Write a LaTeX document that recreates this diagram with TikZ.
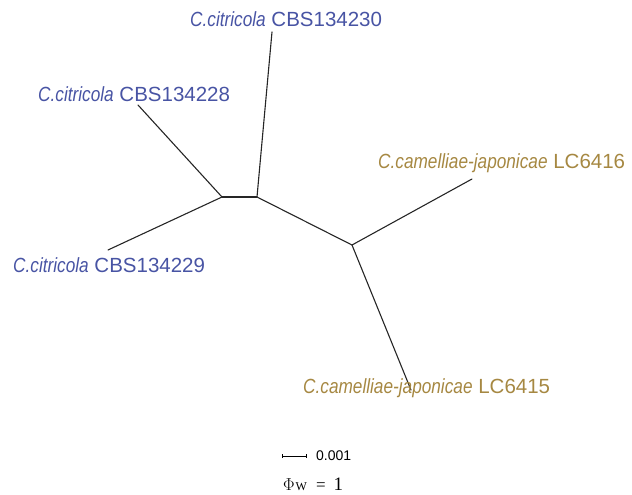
\documentclass[tikz,border=0pt]{standalone}
\usepackage{fontspec}
\setmainfont{Liberation Sans}
\newfontfamily\narrowit{Liberation Sans}[FakeStretch=0.84]
\newfontfamily\serifit{Liberation Serif}
\usetikzlibrary{arrows.meta}
\definecolor{cblue}{RGB}{72,84,164}
\definecolor{cgold}{RGB}{166,136,66}
\tikzset{
  branch/.style={line width=1.1pt, draw=black!85, line cap=round},
  taxon/.style={anchor=base west, inner sep=0pt, font=\fontsize{20.5}{22}\selectfont},
  bluetaxon/.style={taxon, text=cblue},
  goldtaxon/.style={taxon, text=cgold},
}
\newcommand{\spname}[1]{{\narrowit\itshape #1}}
\begin{document}
\begin{tikzpicture}[x=1pt,y=-1pt]
\useasboundingbox (0,0) rectangle (632,495);
% internal nodes
\coordinate (A) at (222,197);
\coordinate (B) at (257,197);
\coordinate (C) at (352,245);
% leaf ends
\coordinate (l230) at (272,32);
\coordinate (l228) at (138,105);
\coordinate (l229) at (108,250);
\coordinate (l6416) at (472,179);
\coordinate (l6415) at (411,390);
% branches
\draw[branch] (A) -- (B);
\draw[branch] (B) -- (C);
\draw[branch] (B) -- (l230);
\draw[branch] (A) -- (l228);
\draw[branch] (A) -- (l229);
\draw[branch] (C) -- (l6416);
\draw[branch] (C) -- (l6415);
% labels
\node[bluetaxon] (t230) at (190,27) {\spname{C.citricola} CBS134230};
\node[bluetaxon] (t228) at (38,102) {\spname{C.citricola} CBS134228};
\node[bluetaxon] (t229) at (13,272) {\spname{C.citricola} CBS134229};
\node[goldtaxon] (t6416) at (378,168) {\spname{C.camelliae-japonicae} LC6416};
\node[goldtaxon] (t6415) at (303,393) {\spname{C.camelliae-japonicae} LC6415};
% scale bar
\coordinate (s0) at (282,456);
\coordinate (s1) at (307,456);
\draw[line width=0.8pt, {Bar[width=4pt]}-{Bar[width=4pt]}] (s0) -- (s1);
\node[anchor=base west, inner sep=0pt, font=\fontsize{14}{15}\selectfont] (sl) at (316,460) {0.001};
\node[anchor=base west, inner sep=0pt] (phi) at (283,490)
  {\serifit{\fontsize{17}{18}\selectfont $\Phi$}\hspace{1pt}{\fontsize{12}{13}\selectfont W}\hspace{9pt}{\fontsize{17}{18}\selectfont =}\hspace{8pt}{\fontsize{19}{20}\selectfont 1}};
\end{tikzpicture}
\end{document}
